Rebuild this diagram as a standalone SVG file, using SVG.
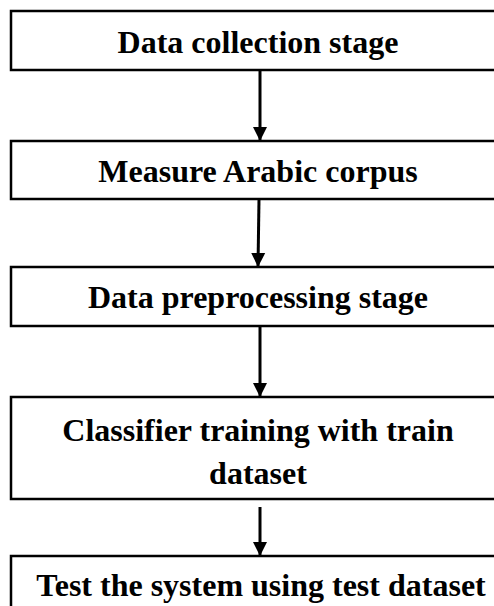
<svg xmlns="http://www.w3.org/2000/svg" width="494" height="606" viewBox="0 0 494 606">
<style>
.box{fill:#fff;stroke:#000;stroke-width:2.5}
.lbl{font-family:"Liberation Serif","Times New Roman",serif;font-weight:bold;font-size:32px;fill:#000;text-anchor:middle}
.conn{stroke:#000;stroke-width:3;fill:none}
</style>
<defs>
<marker id="ah" markerUnits="userSpaceOnUse" markerWidth="14" markerHeight="16" refX="14" refY="7" orient="auto" viewBox="0 0 14 14">
<path d="M0,0 L14,7 L0,14 Z" fill="#000"/>
</marker>
</defs>
<rect width="494" height="606" fill="#fff"/>
<g id="connectors">
<line class="conn" x1="260" y1="70" x2="260" y2="141" marker-end="url(#ah)"/>
<line class="conn" x1="259" y1="199" x2="258" y2="267" marker-end="url(#ah)"/>
<line class="conn" x1="260" y1="326" x2="260" y2="397" marker-end="url(#ah)"/>
<line class="conn" x1="260" y1="507" x2="260" y2="556" marker-end="url(#ah)"/>
</g>
<g id="n1"><rect class="box" x="11" y="11" width="500" height="59"/><text class="lbl" x="258" y="53">Data collection stage</text></g>
<g id="n2"><rect class="box" x="11" y="141" width="500" height="58"/><text class="lbl" x="258" y="182">Measure Arabic corpus</text></g>
<g id="n3"><rect class="box" x="11" y="267" width="500" height="59"/><text class="lbl" x="258" y="308">Data preprocessing stage</text></g>
<g id="n4"><rect class="box" x="11" y="397" width="500" height="102"/><text class="lbl" x="258" y="441">Classifier training with train</text><text class="lbl" x="258" y="484">dataset</text></g>
<g id="n5"><rect class="box" x="11" y="556" width="500" height="70"/><text class="lbl" x="261" y="596">Test the system using test dataset</text></g>
</svg>
